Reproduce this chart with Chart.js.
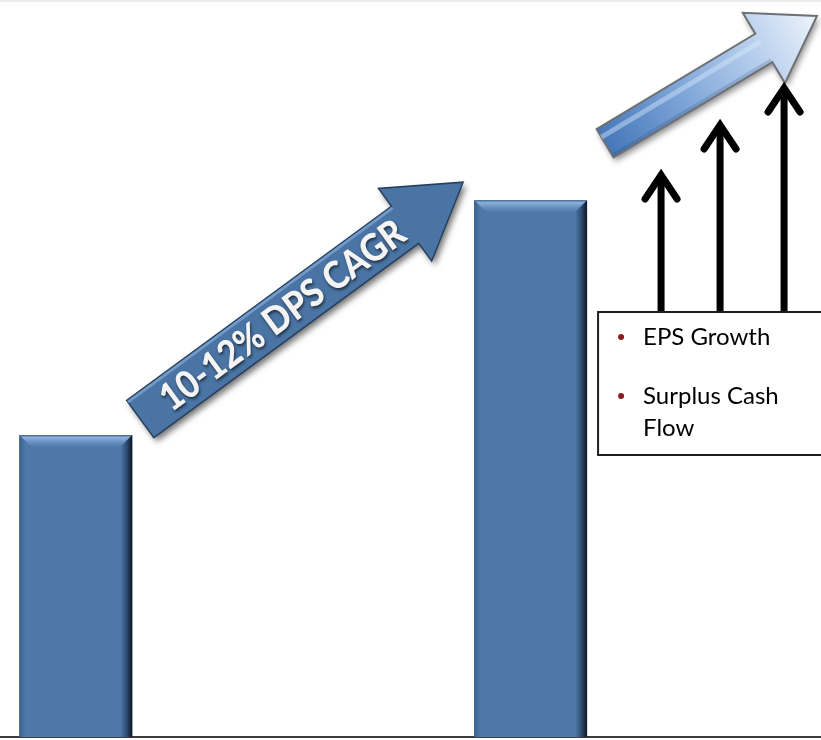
<!DOCTYPE html>
<html>
<head>
<meta charset="utf-8">
<script src="https://cdn.jsdelivr.net/npm/chart.js@4.4.1/dist/chart.umd.min.js"></script>
<style>
  html, body { margin: 0; padding: 0; background: #fff; }
  #wrap { position: relative; width: 821px; height: 740px; }
</style>
</head>
<body>
<div id="wrap"><canvas id="dps-chart"></canvas></div>
<script>
/**
 * Chart data
 */
const periods = ['Current', '', '', 'Target', ''];
const dpsValues = [45, null, null, 80, null];
const yMax = 100;

const arrowLabel = '10-12% DPS CAGR';
const driverItems = [['EPS Growth'], ['Surplus Cash', 'Flow']];

const barColor = '#4e78a8';

// draws a block arrow from (sx,sy) to the tip (tx,ty)
const arrowPath = (ctx, sx, sy, tx, ty, shaftHalf, headLen, headHalf) => {
    const dx = tx - sx, dy = ty - sy, len = Math.hypot(dx, dy);
    const ux = dx / len, uy = dy / len, nx = -uy, ny = ux;
    const hx = tx - ux * headLen, hy = ty - uy * headLen;
    ctx.beginPath();
    ctx.moveTo(sx + nx * shaftHalf, sy + ny * shaftHalf);
    ctx.lineTo(hx + nx * shaftHalf, hy + ny * shaftHalf);
    ctx.lineTo(hx + nx * headHalf, hy + ny * headHalf);
    ctx.lineTo(tx, ty);
    ctx.lineTo(hx - nx * headHalf, hy - ny * headHalf);
    ctx.lineTo(hx - nx * shaftHalf, hy - ny * shaftHalf);
    ctx.lineTo(sx - nx * shaftHalf, sy - ny * shaftHalf);
    ctx.closePath();
    return {ux, uy, nx, ny};
};

//bevel look on the bars
const bevelBars = {
    id: 'bevelBars',
    afterDatasetsDraw(chart) {
        const ctx = chart.ctx;
        chart.getDatasetMeta(0).data.forEach((bar, i) => {
            if (dpsValues[i] == null) return;
            const {x, y, base, width} = bar.getProps(['x', 'y', 'base', 'width'], true);
            const left = x - width / 2, right = x + width / 2, b = 12;
            ctx.save();
            let g = ctx.createLinearGradient(0, y, 0, y + b);
            g.addColorStop(0, '#3d6391');
            g.addColorStop(0.2, '#8db0d9');
            g.addColorStop(0.55, '#6c93c2');
            g.addColorStop(1, barColor);
            ctx.fillStyle = g;
            ctx.beginPath();
            ctx.moveTo(left, y); ctx.lineTo(right, y);
            ctx.lineTo(right - b, y + b); ctx.lineTo(left + b, y + b);
            ctx.closePath(); ctx.fill();

            g = ctx.createLinearGradient(right - b, 0, right, 0);
            g.addColorStop(0, barColor);
            g.addColorStop(0.5, '#2f4f76');
            g.addColorStop(1, '#0c1523');
            ctx.fillStyle = g;
            ctx.beginPath();
            ctx.moveTo(right, y); ctx.lineTo(right, base);
            ctx.lineTo(right - b, base); ctx.lineTo(right - b, y + b);
            ctx.closePath(); ctx.fill();

            g = ctx.createLinearGradient(left, 0, left + 6, 0);
            g.addColorStop(0, '#3b5f8c');
            g.addColorStop(1, barColor);
            ctx.fillStyle = g;
            ctx.beginPath();
            ctx.moveTo(left, y); ctx.lineTo(left + b, y + b);
            ctx.lineTo(left + 6, base); ctx.lineTo(left, base);
            ctx.closePath(); ctx.fill();
            ctx.restore();
        });
    }
};

//arrows, label and the drivers box
const decorations = {
    id: 'decorations',
    beforeDraw(chart) {
        const ctx = chart.ctx;
        ctx.save();
        ctx.fillStyle = '#ececec';
        ctx.fillRect(0, 0, chart.width, 2);
        ctx.restore();
    },
    afterDraw(chart) {
        const ctx = chart.ctx;
        const area = chart.chartArea;
        const bars = chart.getDatasetMeta(0).data;
        const first = bars[0], last = bars[3];

        // carry the x axis line on to the right edge
        ctx.save();
        ctx.strokeStyle = '#3d3d3d';
        ctx.lineWidth = 2;
        ctx.beginPath();
        ctx.moveTo(area.right - 1, area.bottom);
        ctx.lineTo(chart.width, area.bottom);
        ctx.stroke();
        ctx.restore();

        // big CAGR arrow between the bars
        const sx = first.x + first.width / 2 + 8, sy = first.y - 16;
        const tx = last.x - last.width / 2 - 11, ty = last.y - 18;
        ctx.save();
        ctx.shadowColor = 'rgba(0,0,0,0.55)';
        ctx.shadowBlur = 6;
        ctx.shadowOffsetX = 3;
        ctx.shadowOffsetY = 4;
        const dir = arrowPath(ctx, sx, sy, tx, ty, 23, 72, 45);
        ctx.fillStyle = '#4a74a4';
        ctx.fill();
        ctx.shadowColor = 'transparent';
        ctx.lineWidth = 1.5;
        ctx.strokeStyle = '#263f5c';
        ctx.stroke();
        ctx.beginPath();
        ctx.moveTo(sx - dir.nx * 21, sy - dir.ny * 21);
        ctx.lineTo(tx - dir.ux * 72 - dir.nx * 21, ty - dir.uy * 72 - dir.ny * 21);
        ctx.strokeStyle = 'rgba(140,180,225,0.6)';
        ctx.lineWidth = 3;
        ctx.stroke();
        ctx.restore();

        ctx.save();
        ctx.translate(sx + dir.ux * 176, sy + dir.uy * 176);
        ctx.rotate(Math.atan2(dir.uy, dir.ux));
        ctx.font = '900 38px Lato';
        const squeeze = 294 / ctx.measureText(arrowLabel).width;
        ctx.scale(squeeze, 1);
        ctx.textAlign = 'center';
        ctx.textBaseline = 'middle';
        ctx.shadowColor = 'rgba(0,0,0,0.6)';
        ctx.shadowBlur = 3;
        ctx.shadowOffsetX = 1;
        ctx.shadowOffsetY = 2;
        ctx.fillStyle = '#f4f4f4';
        ctx.fillText(arrowLabel, 0, 1);
        ctx.restore();

        // gradient arrow at the top right
        const s2x = last.x + last.width / 2 + 18, s2y = last.y - 57;
        const t2x = chart.width - 4, t2y = 16;
        ctx.save();
        ctx.shadowColor = 'rgba(0,0,0,0.45)';
        ctx.shadowBlur = 6;
        ctx.shadowOffsetX = 2;
        ctx.shadowOffsetY = 4;
        const dir2 = arrowPath(ctx, s2x, s2y, t2x, t2y, 16.5, 62, 41);
        const g = ctx.createLinearGradient(s2x, s2y, t2x, t2y);
        g.addColorStop(0, '#4677b8');
        g.addColorStop(0.35, '#7ba3d7');
        g.addColorStop(0.75, '#bfd4ef');
        g.addColorStop(1, '#eef4fc');
        ctx.fillStyle = g;
        ctx.fill();
        ctx.shadowColor = 'transparent';
        ctx.lineWidth = 2;
        ctx.strokeStyle = '#6e7074';
        ctx.stroke();
        ctx.beginPath();
        ctx.moveTo(s2x - dir2.nx * 7, s2y - dir2.ny * 7);
        ctx.lineTo(t2x - dir2.ux * 62 - dir2.nx * 7, t2y - dir2.uy * 62 - dir2.ny * 7);
        ctx.strokeStyle = 'rgba(215,232,252,0.45)';
        ctx.lineWidth = 5;
        ctx.stroke();
        ctx.beginPath();
        ctx.moveTo(s2x + dir2.nx * 14, s2y + dir2.ny * 14);
        ctx.lineTo(t2x - dir2.ux * 62 + dir2.nx * 14, t2y - dir2.uy * 62 + dir2.ny * 14);
        ctx.strokeStyle = 'rgba(30,60,110,0.18)';
        ctx.lineWidth = 3;
        ctx.stroke();
        ctx.restore();

        // drivers box
        const boxLeft = last.x + last.width / 2 + 11, boxTop = 312, boxBottom = 455;
        ctx.save();
        ctx.fillStyle = '#ffffff';
        ctx.fillRect(boxLeft, boxTop, chart.width, boxBottom - boxTop);
        ctx.lineWidth = 2;
        ctx.strokeStyle = '#1e1e1e';
        ctx.strokeRect(boxLeft, boxTop, chart.width, boxBottom - boxTop);

        // three black up arrows resting on the box
        const arrowXs = [boxLeft + 63, boxLeft + 122, boxLeft + 186];
        const arrowTips = [172, 122, 85];
        ctx.strokeStyle = '#000000';
        ctx.lineWidth = 7;
        arrowXs.forEach((ax, i) => {
            const tip = arrowTips[i];
            ctx.lineCap = 'butt';
            ctx.beginPath();
            ctx.moveTo(ax, boxTop - 1);
            ctx.lineTo(ax, tip + 4);
            ctx.stroke();
            ctx.lineCap = 'round';
            ctx.lineJoin = 'miter';
            ctx.beginPath();
            ctx.moveTo(ax - 16, tip + 27);
            ctx.lineTo(ax, tip + 3);
            ctx.lineTo(ax + 16, tip + 27);
            ctx.stroke();
        });

        ctx.font = '24px Lato';
        ctx.textBaseline = 'middle';
        ctx.textAlign = 'left';
        const rows = [337, 396];
        driverItems.forEach((lines, i) => {
            ctx.fillStyle = '#8b1c1c';
            ctx.beginPath();
            ctx.arc(boxLeft + 23, rows[i], 3, 0, Math.PI * 2);
            ctx.fill();
            ctx.fillStyle = '#000000';
            lines.forEach((line, j) => {
                ctx.fillText(line, boxLeft + 45, rows[i] + j * 32);
            });
        });
        ctx.restore();
    }
};

const dpsChartData = {
    labels: periods,
    datasets: [{
        label: 'DPS',
        data: dpsValues,
        backgroundColor: barColor,
        borderWidth: 0,
        barPercentage: 0.745,
        categoryPercentage: 1
    }]
};

const dpsConfig = {
    type: 'bar',
    data: dpsChartData,
    options: {
        responsive: true,
        maintainAspectRatio: false,
        animation: false,
        layout: {
            padding: {top: 66, bottom: 3, left: 0, right: 63}
        },
        plugins: {
            legend: {display: false},
            tooltip: {enabled: false}
        },
        scales: {
            x: {
                grid: {display: false, drawTicks: false},
                border: {display: true, color: '#3d3d3d', width: 2},
                ticks: {display: false}
            },
            y: {
                display: false,
                min: 0,
                max: yMax
            }
        }
    },
    plugins: [bevelBars, decorations]
};

const dpsChart = new Chart(document.getElementById('dps-chart'), dpsConfig);
</script>
</body>
</html>
